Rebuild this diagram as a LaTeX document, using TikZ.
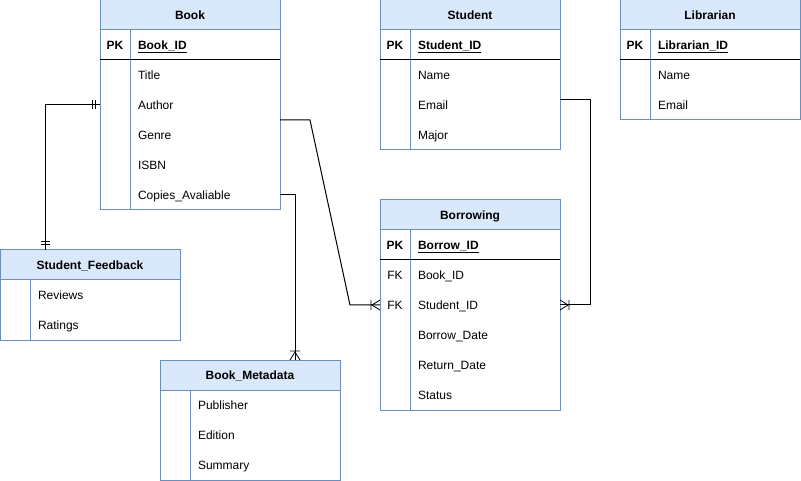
\documentclass[tikz,border=0pt]{standalone}
\usepackage{fontspec}
\setmainfont{Liberation Sans}
\usetikzlibrary{positioning}
\usetikzlibrary{decorations.markings}
\definecolor{erline}{HTML}{6C8EBF}
\definecolor{erfill}{HTML}{DAE8FC}
\newcommand{\ehead}[3]{\node(#1)[head] at (#2){#3}}
\newcommand{\efirst}[3]{\node(#1)[field,anchor=north east] at (#2.south east){#3}}
\newcommand{\efield}[3]{\node(#1)[field,below=0pt of #2]{#3}}
\newcommand{\ekey}[2]{\node[keycell,left=0pt of #1]{#2}}
\newcommand{\eframe}[3]{\draw[frame] (#1.north west) rectangle (#3.south east); \draw[frame] (#2.north west) -- (#3.south west)}
\newcommand{\epkline}[2]{\draw[line width=1pt] (#1.west |- #2.south) -- (#2.south east)}

\begin{document}
\begin{tikzpicture}[
        x=1pt,y=-1pt,
        every node/.style={font=\fontsize{12}{14}\selectfont,outer sep=0pt,text height=9.5pt,text depth=1.1pt},
        head/.style={rectangle,draw=erline,line width=1pt,fill=erfill,minimum width=180pt,minimum height=30pt,
                     inner sep=0pt,font=\fontsize{12}{14}\selectfont\bfseries},
        field/.style={rectangle,text width=134pt,inner xsep=8pt,inner ysep=0pt,
                      minimum height=30pt,align=left},
        keycell/.style={rectangle,minimum width=30pt,minimum height=30pt,inner sep=0pt},
        frame/.style={draw=erline,line width=1pt},
        link/.style={draw=black,line width=1pt},
        mand start/.style={postaction={decorate,decoration={markings,
            mark=at position 0 with {\draw[black,line width=1pt] (5pt,-4.5pt)--(5pt,4.5pt) (8pt,-4.5pt)--(8pt,4.5pt);}}}},
        mand end/.style={postaction={decorate,decoration={markings,
            mark=at position 1 with {\draw[black,line width=1pt] (-5pt,-4.5pt)--(-5pt,4.5pt) (-8pt,-4.5pt)--(-8pt,4.5pt);}}}},
        many end/.style={postaction={decorate,decoration={markings,
            mark=at position 1 with {\draw[black,line width=0.8pt] (-9pt,-5pt)--(-9pt,5pt) (0pt,-5pt)--(-8pt,0pt)--(0pt,5pt);}}}}
      ]
      \useasboundingbox (0,0) rectangle (801,481);
      % Book
      \ehead{book}{190,15}{Book};
      \efirst{bookpk}{book}{\textbf{\underline{Book\_ID}}}; \ekey{bookpk}{\textbf{PK}};
      \efield{booktitle}{bookpk}{Title};
      \efield{bookauthor}{booktitle}{Author};
      \efield{bookgenre}{bookauthor}{Genre};
      \efield{bookisbn}{bookgenre}{ISBN};
      \efield{bookcopies}{bookisbn}{Copies\_Avaliable};
      \eframe{book}{bookpk}{bookcopies}; \epkline{book}{bookpk};
      % Student
      \ehead{student}{470,15}{Student};
      \efirst{stupk}{student}{\textbf{\underline{Student\_ID}}}; \ekey{stupk}{\textbf{PK}};
      \efield{stuname}{stupk}{Name};
      \efield{stuemail}{stuname}{Email};
      \efield{stumajor}{stuemail}{Major};
      \eframe{student}{stupk}{stumajor}; \epkline{student}{stupk};
      % Librarian
      \ehead{libr}{710,15}{Librarian};
      \efirst{librpk}{libr}{\textbf{\underline{Librarian\_ID}}}; \ekey{librpk}{\textbf{PK}};
      \efield{librname}{librpk}{Name};
      \efield{libremail}{librname}{Email};
      \eframe{libr}{librpk}{libremail}; \epkline{libr}{librpk};
      % Borrowing
      \ehead{borrow}{470,215}{Borrowing};
      \efirst{borrowpk}{borrow}{\textbf{\underline{Borrow\_ID}}}; \ekey{borrowpk}{\textbf{PK}};
      \efield{borrowbid}{borrowpk}{Book\_ID}; \ekey{borrowbid}{FK};
      \efield{borrowsid}{borrowbid}{Student\_ID}; \ekey{borrowsid}{FK};
      \efield{borrowdate}{borrowsid}{Borrow\_Date};
      \efield{borrowret}{borrowdate}{Return\_Date};
      \efield{borrowstat}{borrowret}{Status};
      \eframe{borrow}{borrowpk}{borrowstat}; \epkline{borrow}{borrowpk};
      % Student_Feedback
      \ehead{fb}{90,265}{Student\_Feedback};
      \efirst{fbrev}{fb}{Reviews};
      \efield{fbrat}{fbrev}{Ratings};
      \eframe{fb}{fbrev}{fbrat};
      % Book_Metadata
      \ehead{meta}{250,375}{Book\_Metadata};
      \efirst{metapub}{meta}{Publisher};
      \efield{metaed}{metapub}{Edition};
      \efield{metasum}{metaed}{Summary};
      \eframe{meta}{metapub}{metasum};

      % relations
      \coordinate (bsidw) at (borrow.west |- borrowsid);
      \coordinate (bside) at (borrow.east |- borrowsid);
      \coordinate (semail) at (student.east |- stuemail);
      \draw[link,mand start,mand end] (book.west |- bookauthor) -| ([xshift=45pt]fb.north west);
      \draw[link,many end] (book.east |- bookauthor.south) -- ++(30,0) -- ([xshift=-30pt]bsidw) -- (bsidw);
      \draw[link,many end] (book.east |- bookcopies) -| ([xshift=135pt]meta.north west);
      \draw[link,many end] ([yshift=5pt]semail) -- ++(30,0) |- (bside);
    \end{tikzpicture}
\end{document}
